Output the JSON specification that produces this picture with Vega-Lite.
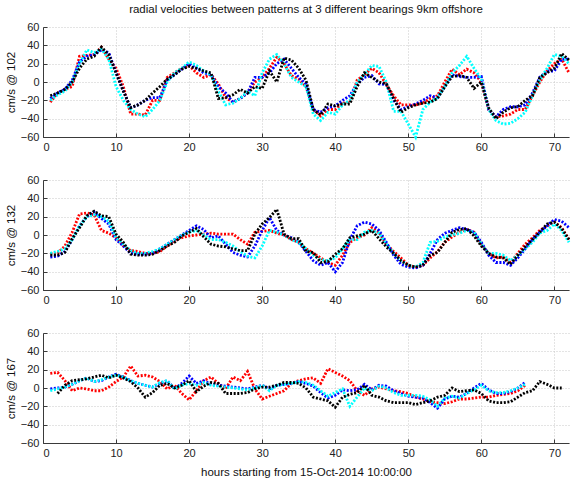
{
"$schema": "https://vega.github.io/schema/vega-lite/v6.json",
"padding": {"left": 5, "top": 3, "right": 0, "bottom": 0},
"spacing": 22,
"config": {
  "view": {"stroke": null},
  "font": "Liberation Sans",
  "axis": {"domainColor": "#3a3a3a", "tickColor": "#3a3a3a", "labelColor": "#222222", "labelFont": "Liberation Sans", "labelFontSize": 11, "titleFont": "Liberation Sans", "titleFontSize": 11.5, "titleFontWeight": "normal", "titleColor": "#111111", "gridColor": "#c8c8c8", "gridDash": [1, 2], "tickSize": -4, "labelPadding": 8, "domainWidth": 1},
  "line": {"strokeWidth": 2.8, "strokeDash": [2, 1.6]}
},
"datasets": {
"p1": [
{"x":1,"r":-22,"b":-18,"c":-20,"k":-15},{"x":2,"r":-12,"b":-12,"c":-14,"k":-12},{"x":3,"r":-8,"b":-8,"c":-10,"k":-8},{"x":4,"r":-5,"b":2,"c":0,"k":0},{"x":5,"r":28,"b":22,"c":20,"k":15},{"x":6,"r":29,"b":28,"c":35,"k":25},{"x":7,"r":30,"b":30,"c":32,"k":28},{"x":8,"r":38,"b":35,"c":36,"k":38},{"x":9,"r":25,"b":32,"c":25,"k":30},{"x":10,"r":15,"b":10,"c":-5,"k":10},
{"x":11,"r":-5,"b":-10,"c":-20,"k":-10},{"x":12,"r":-35,"b":-28,"c":-30,"k":-28},{"x":13,"r":-35,"b":-25,"c":-35,"k":-25},{"x":14,"r":-36,"b":-20,"c":-38,"k":-20},{"x":15,"r":-20,"b":-17,"c":-30,"k":-12},{"x":16,"r":-20,"b":-17,"c":-20,"k":-5},{"x":17,"r":5,"b":2,"c":0,"k":3},{"x":18,"r":10,"b":8,"c":10,"k":8},{"x":19,"r":15,"b":14,"c":15,"k":14},{"x":20,"r":18,"b":20,"c":22,"k":17},
{"x":21,"r":10,"b":15,"c":18,"k":15},{"x":22,"r":5,"b":10,"c":12,"k":12},{"x":23,"r":8,"b":8,"c":8,"k":10},{"x":24,"r":-2,"b":-5,"c":-10,"k":-18},{"x":25,"r":-17,"b":-12,"c":-25,"k":-17},{"x":26,"r":-22,"b":-22,"c":-23,"k":-14},{"x":27,"r":-18,"b":-18,"c":-18,"k":-8},{"x":28,"r":-12,"b":-12,"c":-10,"k":-12},{"x":29,"r":0,"b":5,"c":-15,"k":-5},{"x":30,"r":5,"b":5,"c":10,"k":-7},
{"x":31,"r":15,"b":10,"c":25,"k":12},{"x":32,"r":27,"b":20,"c":30,"k":0},{"x":33,"r":20,"b":25,"c":20,"k":26},{"x":34,"r":7,"b":15,"c":5,"k":24},{"x":35,"r":3,"b":5,"c":0,"k":15},{"x":36,"r":-5,"b":-2,"c":-5,"k":2},{"x":37,"r":-30,"b":-30,"c":-35,"k":-30},{"x":38,"r":-37,"b":-33,"c":-42,"k":-36},{"x":39,"r":-30,"b":-28,"c":-33,"k":-24},{"x":40,"r":-30,"b":-26,"c":-35,"k":-26},
{"x":41,"r":-23,"b":-20,"c":-25,"k":-24},{"x":42,"r":-22,"b":-15,"c":-20,"k":-24},{"x":43,"r":2,"b":-2,"c":0,"k":-5},{"x":44,"r":8,"b":5,"c":8,"k":10},{"x":45,"r":15,"b":7,"c":18,"k":5},{"x":46,"r":10,"b":-2,"c":17,"k":0},{"x":47,"r":-3,"b":-3,"c":0,"k":-2},{"x":48,"r":-15,"b":-20,"c":-32,"k":-18},{"x":49,"r":-25,"b":-30,"c":-32,"k":-33},{"x":50,"r":-25,"b":-27,"c":-46,"k":-28},
{"x":51,"r":-25,"b":-24,"c":-60,"k":-25},{"x":52,"r":-23,"b":-20,"c":-30,"k":-23},{"x":53,"r":-18,"b":-15,"c":-22,"k":-22},{"x":54,"r":-15,"b":-17,"c":-17,"k":-18},{"x":55,"r":0,"b":-5,"c":-5,"k":-5},{"x":56,"r":14,"b":8,"c":10,"k":6},{"x":57,"r":8,"b":6,"c":18,"k":7},{"x":58,"r":14,"b":5,"c":28,"k":5},{"x":59,"r":10,"b":5,"c":15,"k":-7},{"x":60,"r":0,"b":6,"c":3,"k":0},
{"x":61,"r":-30,"b":-30,"c":-30,"k":-28},{"x":62,"r":-38,"b":-38,"c":-42,"k":-40},{"x":63,"r":-37,"b":-30,"c":-46,"k":-33},{"x":64,"r":-35,"b":-27,"c":-45,"k":-28},{"x":65,"r":-30,"b":-27,"c":-40,"k":-27},{"x":66,"r":-30,"b":-25,"c":-33,"k":-20},{"x":67,"r":-15,"b":-12,"c":-15,"k":-15},{"x":68,"r":0,"b":5,"c":2,"k":5},{"x":69,"r":12,"b":12,"c":15,"k":10},{"x":70,"r":20,"b":12,"c":30,"k":15},
{"x":71,"r":25,"b":25,"c":28,"k":31},{"x":72,"r":10,"b":25,"c":20,"k":24}
],
"p2": [
{"x":1,"r":-20,"b":-24,"c":-20,"k":-22},{"x":2,"r":-20,"b":-23,"c":-18,"k":-22},{"x":3,"r":-12,"b":-18,"c":-15,"k":-19},{"x":4,"r":3,"b":-5,"c":-5,"k":-4},{"x":5,"r":23,"b":10,"c":10,"k":8},{"x":6,"r":24,"b":20,"c":20,"k":21},{"x":7,"r":22,"b":25,"c":22,"k":26},{"x":8,"r":5,"b":18,"c":20,"k":21},{"x":9,"r":2,"b":12,"c":15,"k":20},{"x":10,"r":-3,"b":-5,"c":-3,"k":1},
{"x":11,"r":-12,"b":-12,"c":-10,"k":-8},{"x":12,"r":-17,"b":-20,"c":-17,"k":-21},{"x":13,"r":-18,"b":-21,"c":-20,"k":-22},{"x":14,"r":-20,"b":-21,"c":-20,"k":-22},{"x":15,"r":-20,"b":-20,"c":-18,"k":-21},{"x":16,"r":-18,"b":-15,"c":-15,"k":-17},{"x":17,"r":-12,"b":-10,"c":-10,"k":-12},{"x":18,"r":-6,"b":-5,"c":-5,"k":-8},{"x":19,"r":-3,"b":0,"c":0,"k":-1},{"x":20,"r":-1,"b":5,"c":3,"k":3},
{"x":21,"r":0,"b":10,"c":5,"k":7},{"x":22,"r":1,"b":6,"c":0,"k":-2},{"x":23,"r":2,"b":-3,"c":-5,"k":-10},{"x":24,"r":1,"b":-1,"c":-5,"k":-12},{"x":25,"r":1,"b":-10,"c":-8,"k":-13},{"x":26,"r":1,"b":-19,"c":-12,"k":-15},{"x":27,"r":-5,"b":-22,"c":-18,"k":-17},{"x":28,"r":-10,"b":-24,"c":-23,"k":-17},{"x":29,"r":3,"b":-12,"c":-25,"k":1},{"x":30,"r":4,"b":5,"c":-12,"k":12},
{"x":31,"r":5,"b":19,"c":5,"k":19},{"x":32,"r":2,"b":5,"c":3,"k":28},{"x":33,"r":0,"b":0,"c":0,"k":1},{"x":34,"r":-5,"b":-3,"c":-5,"k":-4},{"x":35,"r":-8,"b":-8,"c":-8,"k":-4},{"x":36,"r":-15,"b":-18,"c":-15,"k":-18},{"x":37,"r":-20,"b":-28,"c":-22,"k":-19},{"x":38,"r":-25,"b":-33,"c":-27,"k":-30},{"x":39,"r":-30,"b":-30,"c":-28,"k":-29},{"x":40,"r":-33,"b":-40,"c":-25,"k":-21},
{"x":41,"r":-22,"b":-30,"c":-15,"k":-15},{"x":42,"r":-8,"b":-5,"c":-5,"k":-3},{"x":43,"r":-3,"b":10,"c":-5,"k":-1},{"x":44,"r":0,"b":14,"c":3,"k":1},{"x":45,"r":8,"b":12,"c":5,"k":5},{"x":46,"r":3,"b":5,"c":2,"k":-4},{"x":47,"r":-10,"b":-8,"c":-10,"k":-13},{"x":48,"r":-18,"b":-22,"c":-20,"k":-20},{"x":49,"r":-25,"b":-32,"c":-28,"k":-28},{"x":50,"r":-33,"b":-35,"c":-33,"k":-33},
{"x":51,"r":-35,"b":-36,"c":-35,"k":-35},{"x":52,"r":-33,"b":-33,"c":-30,"k":-33},{"x":53,"r":-25,"b":-20,"c":-8,"k":-22},{"x":54,"r":-18,"b":-5,"c":-7,"k":-19},{"x":55,"r":-8,"b":2,"c":-2,"k":-8},{"x":56,"r":-2,"b":5,"c":0,"k":3},{"x":57,"r":3,"b":8,"c":2,"k":6},{"x":58,"r":6,"b":6,"c":5,"k":7},{"x":59,"r":3,"b":3,"c":3,"k":-1},{"x":60,"r":-10,"b":-8,"c":-10,"k":-12},
{"x":61,"r":-20,"b":-22,"c":-20,"k":-20},{"x":62,"r":-25,"b":-30,"c":-20,"k":-24},{"x":63,"r":-24,"b":-30,"c":-22,"k":-25},{"x":64,"r":-30,"b":-33,"c":-28,"k":-32},{"x":65,"r":-20,"b":-25,"c":-22,"k":-22},{"x":66,"r":-10,"b":-15,"c":-15,"k":-13},{"x":67,"r":-3,"b":-5,"c":-8,"k":-5},{"x":68,"r":5,"b":3,"c":2,"k":3},{"x":69,"r":10,"b":10,"c":5,"k":12},{"x":70,"r":14,"b":17,"c":12,"k":14},
{"x":71,"r":8,"b":15,"c":5,"k":7},{"x":72,"r":-5,"b":8,"c":-8,"k":-5}
],
"p3": [
{"x":1,"r":16,"b":-1,"c":-3},{"x":2,"r":17,"b":0,"c":-1,"k":-6},{"x":3,"r":8,"b":1,"c":1,"k":3},{"x":4,"r":-3,"b":4,"c":4,"k":8},{"x":5,"r":0,"b":8,"c":8,"k":9},{"x":6,"r":-1,"b":11,"c":11,"k":10},{"x":7,"r":-3,"b":7,"c":7,"k":12},{"x":8,"r":-3,"b":8,"c":9,"k":14},{"x":9,"r":1,"b":12,"c":12,"k":11},{"x":10,"r":7,"b":15,"c":14,"k":14},
{"x":11,"r":12,"b":12,"c":12,"k":11},{"x":12,"r":24,"b":8,"c":8,"k":7},{"x":13,"r":13,"b":5,"c":5,"k":0},{"x":14,"r":14,"b":3,"c":3,"k":-10},{"x":15,"r":12,"b":1,"c":1,"k":-5},{"x":16,"r":7,"b":5,"c":6,"k":3},{"x":17,"r":-1,"b":8,"c":8,"k":5},{"x":18,"r":3,"b":-1,"c":-1,"k":0},{"x":19,"r":-6,"b":5,"c":3,"k":3},{"x":20,"r":-13,"b":13,"c":5,"k":8},
{"x":21,"r":-3,"b":5,"c":3,"k":-4},{"x":22,"r":8,"b":8,"c":6,"k":2},{"x":23,"r":12,"b":4,"c":3,"k":6},{"x":24,"r":5,"b":3,"c":2,"k":5},{"x":25,"r":-1,"b":2,"c":1,"k":-6},{"x":26,"r":12,"b":1,"c":0,"k":-6},{"x":27,"r":8,"b":0,"c":-1,"k":-6},{"x":28,"r":18,"b":-1,"c":-2,"k":-5},{"x":29,"r":-1,"b":1,"c":0,"k":-1},{"x":30,"r":-12,"b":3,"c":3,"k":1},
{"x":31,"r":-9,"b":-1,"c":-3,"k":1},{"x":32,"r":-6,"b":3,"c":3,"k":3},{"x":33,"r":-3,"b":4,"c":4,"k":6},{"x":34,"r":5,"b":5,"c":5,"k":6},{"x":35,"r":8,"b":7,"c":7,"k":5},{"x":36,"r":10,"b":5,"c":6,"k":0},{"x":37,"r":11,"b":2,"c":3,"k":-10},{"x":38,"r":5,"b":-5,"c":-3,"k":-12},{"x":39,"r":21,"b":-11,"c":-9,"k":-14},{"x":40,"r":17,"b":-8,"c":-5,"k":-21},
{"x":41,"r":13,"b":-2,"c":-1,"k":-10},{"x":42,"r":8,"b":-3,"c":-20,"k":-7},{"x":43,"r":-3,"b":-2,"c":-10,"k":-5},{"x":44,"r":-8,"b":4,"c":0,"k":3},{"x":45,"r":-1,"b":-2,"c":-3,"k":-8},{"x":46,"r":1,"b":3,"c":2,"k":-10},{"x":47,"r":-1,"b":2,"c":0,"k":-14},{"x":48,"r":-3,"b":-3,"c":-5,"k":-16},{"x":49,"r":-4,"b":-6,"c":-8,"k":-16},{"x":50,"r":-6,"b":-9,"c":-8,"k":-16},
{"x":51,"r":-10,"b":-10,"c":-8,"k":-18},{"x":52,"r":-12,"b":-11,"c":-9,"k":-16},{"x":53,"r":-15,"b":-16,"c":-13,"k":-14},{"x":54,"r":-16,"b":-22,"c":-20,"k":-10},{"x":55,"r":-17,"b":-12,"c":-11,"k":-8},{"x":56,"r":-15,"b":-9,"c":-9,"k":0},{"x":57,"r":-12,"b":-10,"c":-11,"k":-4},{"x":58,"r":-12,"b":-6,"c":-6,"k":-3},{"x":59,"r":-11,"b":0,"c":-2,"k":-2},{"x":60,"r":-10,"b":5,"c":3,"k":-6},
{"x":61,"r":-10,"b":-2,"c":-3,"k":-14},{"x":62,"r":-8,"b":-6,"c":-5,"k":-16},{"x":63,"r":-7,"b":-6,"c":-5,"k":-16},{"x":64,"r":-6,"b":-4,"c":-3,"k":-15},{"x":65,"r":-3,"b":0,"c":0,"k":-10},{"x":66,"r":3,"b":6,"c":4,"k":-5},{"x":67,"k":-3},{"x":68,"k":7},{"x":69,"k":4},{"x":70,"k":0},
{"x":71,"k":0}
]
},
"vconcat": [
{
  "title": {"text": "radial velocities between patterns at 3 different bearings 9km offshore", "font": "Liberation Sans", "fontSize": 11.5, "fontWeight": "normal", "color": "#111111", "anchor": "middle", "frame": "group", "offset": 6},
  "width": 526, "height": 110,
  "data": {"name": "p1"},
  "transform": [{"fold": ["r", "b", "c", "k"], "as": ["s", "y"]}],
  "mark": {"type": "line"},
  "encoding": {
    "x": {"field": "x", "type": "quantitative", "scale": {"domain": [0, 72], "nice": false}, "axis": {"values": [0, 10, 20, 30, 40, 50, 60, 70], "title": null}},
    "y": {"field": "y", "type": "quantitative", "scale": {"domain": [-60, 60], "nice": false}, "axis": {"values": [-60, -40, -20, 0, 20, 40, 60], "title": "cm/s @ 102"}},
    "color": {"field": "s", "type": "nominal", "scale": {"domain": ["r", "b", "c", "k"], "range": ["#ff0000", "#0000ff", "#00ffff", "#000000"]}, "legend": null}
  }
},
{
  "width": 526, "height": 110,
  "data": {"name": "p2"},
  "transform": [{"fold": ["r", "b", "c", "k"], "as": ["s", "y"]}],
  "mark": {"type": "line"},
  "encoding": {
    "x": {"field": "x", "type": "quantitative", "scale": {"domain": [0, 72], "nice": false}, "axis": {"values": [0, 10, 20, 30, 40, 50, 60, 70], "title": null}},
    "y": {"field": "y", "type": "quantitative", "scale": {"domain": [-60, 60], "nice": false}, "axis": {"values": [-60, -40, -20, 0, 20, 40, 60], "title": "cm/s @ 132"}},
    "color": {"field": "s", "type": "nominal", "scale": {"domain": ["r", "b", "c", "k"], "range": ["#ff0000", "#0000ff", "#00ffff", "#000000"]}, "legend": null}
  }
},
{
  "width": 526, "height": 110,
  "data": {"name": "p3"},
  "transform": [{"fold": ["r", "b", "c", "k"], "as": ["s", "y"]}],
  "mark": {"type": "line"},
  "encoding": {
    "x": {"field": "x", "type": "quantitative", "scale": {"domain": [0, 72], "nice": false}, "axis": {"values": [0, 10, 20, 30, 40, 50, 60, 70], "title": "hours starting from 15-Oct-2014 10:00:00", "titlePadding": 8}},
    "y": {"field": "y", "type": "quantitative", "scale": {"domain": [-60, 60], "nice": false}, "axis": {"values": [-60, -40, -20, 0, 20, 40, 60], "title": "cm/s @ 167"}},
    "color": {"field": "s", "type": "nominal", "scale": {"domain": ["r", "b", "c", "k"], "range": ["#ff0000", "#0000ff", "#00ffff", "#000000"]}, "legend": null}
  }
}
]
}
